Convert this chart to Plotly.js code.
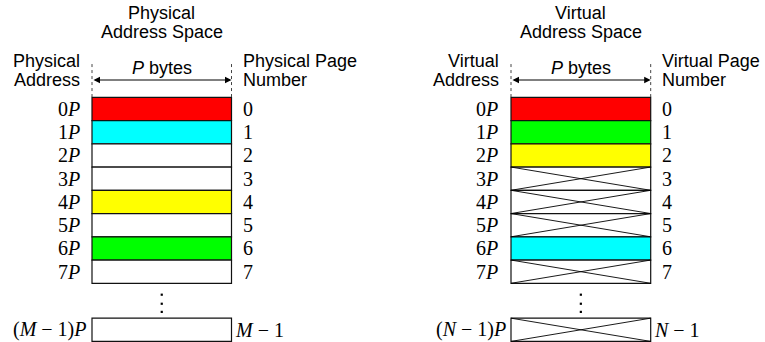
<!DOCTYPE html>
<html>
<head>
<meta charset="utf-8">
<script src="https://cdn.plot.ly/plotly-3.0.1.min.js"></script>
<style>html,body{margin:0;padding:0;background:#fff;}#chart{width:765px;height:342px;}</style>
</head>
<body>
<div id="chart"></div>
<script>
// ---- data ----
const pageNumbers = ['0','1','2','3','4','5','6','7','M − 1'];
const physAddrLabels = ['0<i>P</i>','1<i>P</i>','2<i>P</i>','3<i>P</i>','4<i>P</i>','5<i>P</i>','6<i>P</i>','7<i>P</i>','(<i>M</i> − 1)<i>P</i>'];
const physPageLabels = ['0','1','2','3','4','5','6','7','<i>M</i> − 1'];
const virtAddrLabels = ['0<i>P</i>','1<i>P</i>','2<i>P</i>','3<i>P</i>','4<i>P</i>','5<i>P</i>','6<i>P</i>','7<i>P</i>','(<i>N</i> − 1)<i>P</i>'];
const virtPageLabels = ['0','1','2','3','4','5','6','7','<i>N</i> − 1'];
const physColors = ['#ff0000','#00ffff','#ffffff','#ffffff','#ffff00','#ffffff','#00ff00','#ffffff','#ffffff'];
const virtColors = ['#ff0000','#00ff00','#ffff00','#ffffff','#ffffff','#ffffff','#00ffff','#ffffff','#ffffff'];
const virtMapped = [true,true,true,false,false,false,true,false,false];
const panelTitles = [['Physical','Address Space'],['Virtual','Address Space']];
const leftHeads = [['Physical','Address'],['Virtual','Address']];
const rightHeads = [['Physical Page','Number'],['Virtual Page','Number']];
const pageSizeLabel = '<i>P</i> bytes';

// row position: first 8 rows contiguous, last row after the ellipsis gap
const rowPos = pageNumbers.map((_, i) => i < 8 ? i : 9.5);
const dotsY = [7.99, 8.38, 8.73];

const SANS = 'Liberation Sans, Arial, sans-serif';
const SERIF = 'Liberation Serif, Times New Roman, serif';
const SANS_SIZE = 18;
const SERIF_SIZE = 20;

const traces = [];
const annotations = [];

function panel(k, colors, addrLabels, pageLabels, mapped) {
  const xa = k === 0 ? 'x' : 'x2';
  const axRef = k === 0 ? 'x' : 'x2';
  traces.push({
    type: 'bar', orientation: 'h', xaxis: xa, yaxis: 'y',
    y: rowPos, x: rowPos.map(() => 1), base: 0, width: 1,
    marker: {color: colors, line: {color: '#111', width: 1.2}},
    hoverinfo: 'skip', showlegend: false
  });
  if (mapped) {
    const cx = [], cy = [];
    rowPos.forEach((r, i) => {
      if (!mapped[i]) {
        cx.push(0, 1, null, 0, 1, null);
        cy.push(r - 0.5, r + 0.5, null, r + 0.5, r - 0.5, null);
      }
    });
    traces.push({type: 'scatter', mode: 'lines', xaxis: xa, yaxis: 'y', x: cx, y: cy,
      line: {color: '#000', width: 0.9}, hoverinfo: 'skip', showlegend: false, connectgaps: false});
  }
  // dotted guide lines
  traces.push({type: 'scatter', mode: 'lines', xaxis: xa, yaxis: 'y',
    x: [0, 0, null, 1, 1], y: [-1.93, -0.5, null, -1.93, -0.5],
    line: {color: '#444', width: 1, dash: 'dot'}, hoverinfo: 'skip', showlegend: false});
  // ellipsis dots
  traces.push({type: 'scatter', mode: 'markers', xaxis: xa, yaxis: 'y',
    x: dotsY.map(() => 0.5), y: dotsY,
    marker: {symbol: 'square', size: 2.2, color: '#000'}, hoverinfo: 'skip', showlegend: false});

  // row labels
  rowPos.forEach((r, i) => {
    const last = i === rowPos.length - 1;
    annotations.push({xref: axRef, yref: 'y', x: 0, y: r, text: addrLabels[i], showarrow: false,
      xanchor: 'right', yanchor: 'middle', xshift: last ? -3 : (k === 0 ? -10 : -11),
      font: {family: SERIF, size: SERIF_SIZE, color: '#000'}});
    annotations.push({xref: axRef, yref: 'y', x: 1, y: r, text: pageLabels[i], showarrow: false,
      xanchor: 'left', yanchor: 'middle', xshift: last ? 1 : 9,
      font: {family: SERIF, size: SERIF_SIZE, color: '#000'}});
  });
  // titles (px centres ~13.5 and ~32.5)
  const tY = [-4.105, -3.29];
  panelTitles[k].forEach((t, j) => annotations.push({xref: axRef, yref: 'y', x: 0.5, y: tY[j], text: t,
    showarrow: false, xanchor: 'center', yanchor: 'middle', font: {family: SANS, size: SANS_SIZE, color: '#000'}}));
  const hY = [-2.08, -1.26];
  leftHeads[k].forEach((t, j) => annotations.push({xref: axRef, yref: 'y', x: 0, y: hY[j], text: t,
    showarrow: false, xanchor: 'right', yanchor: 'middle', xshift: -10, font: {family: SANS, size: SANS_SIZE, color: '#000'}}));
  rightHeads[k].forEach((t, j) => annotations.push({xref: axRef, yref: 'y', x: 1, y: hY[j], text: t,
    showarrow: false, xanchor: 'left', yanchor: 'middle', xshift: 9, font: {family: SANS, size: SANS_SIZE, color: '#000'}}));
  annotations.push({xref: axRef, yref: 'y', x: 0.5, y: -1.78, text: pageSizeLabel, showarrow: false,
    xanchor: 'center', yanchor: 'middle', font: {family: SANS, size: SANS_SIZE, color: '#000'}});
  // double arrow
  annotations.push({xref: axRef, yref: 'y', axref: axRef, ayref: 'y', x: 1, y: -1.244, ax: 0, ay: -1.244,
    text: '', showarrow: true, arrowside: 'end+start', arrowhead: 2, arrowsize: 1.3, arrowwidth: 1,
    arrowcolor: '#000', standoff: 0, startstandoff: 0});
}

panel(0, physColors, physAddrLabels, physPageLabels, null);
panel(1, virtColors, virtAddrLabels, virtPageLabels, virtMapped);

const hidden = {visible: false, showgrid: false, zeroline: false, fixedrange: true};
const layout = {
  width: 765, height: 342,
  margin: {l: 0, r: 0, t: 0, b: 0},
  paper_bgcolor: '#fff', plot_bgcolor: '#fff',
  showlegend: false, barmode: 'overlay',
  xaxis: Object.assign({}, hidden, {domain: [0, 0.5], range: [-0.6595, 2.0824]}),
  xaxis2: Object.assign({}, hidden, {domain: [0.5, 1], range: [-0.9198, 1.8182]}),
  yaxis: Object.assign({}, hidden, {range: [10.025, -4.685]}),
  annotations: annotations
};
Plotly.newPlot('chart', traces, layout, {staticPlot: true, displayModeBar: false});
</script>
</body>
</html>
